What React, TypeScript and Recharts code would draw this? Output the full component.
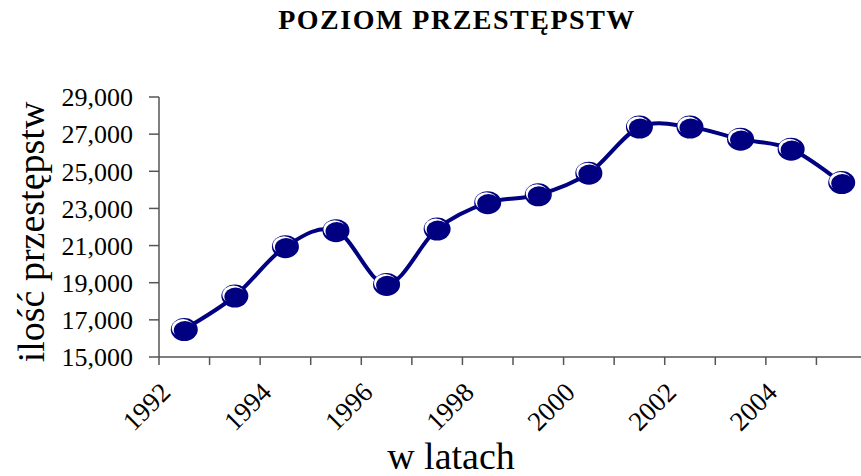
import React from "react";
import { LineChart, Line, XAxis, YAxis } from "recharts";

const years = [1992, 1993, 1994, 1995, 1996, 1997, 1998, 1999, 2000, 2001, 2002, 2003, 2004, 2005];
const crimes = [16480, 18280, 20940, 21800, 18910, 21890, 23310, 23730, 24900, 27380, 27380, 26730, 26190, 24390];
const yTicks = [15000, 17000, 19000, 21000, 23000, 25000, 27000, 29000];
const xTickLabels = ["1992", "1994", "1996", "1998", "2000", "2002", "2004"];

const NAVY = "#000080";
const FONT = '"Liberation Serif", "Times New Roman", serif';

const data = years.map((year, i) => ({ year, value: crimes[i] }));
// ticks sit between the years, like an Excel category axis
const xTicks = [...years.map((y) => y - 0.5), years[years.length - 1] + 0.5];

// Excel-like smoothed line (Catmull-Rom as cubic bezier)
const excelSmooth = (context: any) => {
  let pts: number[][] = [];
  return {
    areaStart() {},
    areaEnd() {},
    lineStart() {
      pts = [];
    },
    point(x: number, y: number) {
      pts.push([+x, +y]);
    },
    lineEnd() {
      const n = pts.length;
      if (!n) return;
      context.moveTo(pts[0][0], pts[0][1]);
      for (let i = 0; i < n - 1; i++) {
        const p0 = pts[Math.max(i - 1, 0)];
        const p1 = pts[i];
        const p2 = pts[i + 1];
        const p3 = pts[Math.min(i + 2, n - 1)];
        context.bezierCurveTo(
          p1[0] + (p2[0] - p0[0]) / 6,
          p1[1] + (p2[1] - p0[1]) / 6,
          p2[0] - (p3[0] - p1[0]) / 6,
          p2[1] - (p3[1] - p1[1]) / 6,
          p2[0],
          p2[1]
        );
      }
    },
  };
};

const Marker = ({ cx, cy }: any) => {
  if (cx == null || cy == null) return null;
  return (
    <g>
      <ellipse cx={cx} cy={cy} rx={13.5} ry={11.5} fill={NAVY} />
      <ellipse cx={cx - 1.5} cy={cy - 1.5} rx={11} ry={9} fill="#fff" />
      <ellipse cx={cx + 0.7} cy={cy + 0.7} rx={11.2} ry={9.3} fill={NAVY} />
    </g>
  );
};

const YearTick = ({ x, y, payload }: any) => {
  const label = String(payload.value + 0.5);
  if (!xTickLabels.includes(label)) return null;
  return (
    <g transform={`translate(${x + 13},${y + 27})`}>
      <text transform="rotate(-45)" textAnchor="end" fontSize={27} fontFamily={FONT} fill="#000">
        {label}
      </text>
    </g>
  );
};

export default function App() {
  return (
    <div
      style={{
        position: "absolute",
        left: 0,
        top: 0,
        width: 861,
        height: 476,
        background: "#fff",
        overflow: "hidden",
      }}
    >
      <LineChart
        width={861}
        height={476}
        data={data}
        margin={{ top: 97, right: -6, left: 0, bottom: 0 }}
      >
        <XAxis
          type="number"
          dataKey="year"
          domain={[1991.5, 2005.5]}
          ticks={xTicks}
          interval={0}
          allowDataOverflow
          height={119}
          tickSize={8}
          stroke="#555"
          strokeWidth={1.5}
          tick={<YearTick />}
        />
        <YAxis
          domain={[15000, 29000]}
          ticks={yTicks}
          interval={0}
          width={159}
          tickSize={10}
          tickMargin={16}
          stroke="#555"
          strokeWidth={1.5}
          tickFormatter={(v: number) => v.toLocaleString("en-US")}
          tick={{ fill: "#000", fontSize: 26, fontFamily: FONT }}
        />
        <Line
          dataKey="value"
          type={excelSmooth as any}
          stroke={NAVY}
          strokeWidth={4}
          dot={(p: any) => <Marker key={`m-${p.index}`} {...p} />}
          activeDot={false}
          isAnimationActive={false}
        />
      </LineChart>
      <svg
        width={861}
        height={476}
        style={{ position: "absolute", left: 0, top: 0, pointerEvents: "none" }}
      >
        <text
          x={457}
          y={29}
          textAnchor="middle"
          fontFamily={FONT}
          fontWeight="bold"
          fontSize={28}
          letterSpacing={1.5}
        >
          POZIOM PRZESTĘPSTW
        </text>
        <text
          x={44}
          y={232}
          transform="rotate(-90 44 232)"
          textAnchor="middle"
          fontFamily={FONT}
          fontSize={38}
        >
          ilość przestępstw
        </text>
        <text x={451} y={469} textAnchor="middle" fontFamily={FONT} fontSize={38}>
          w latach
        </text>
      </svg>
    </div>
  );
}
